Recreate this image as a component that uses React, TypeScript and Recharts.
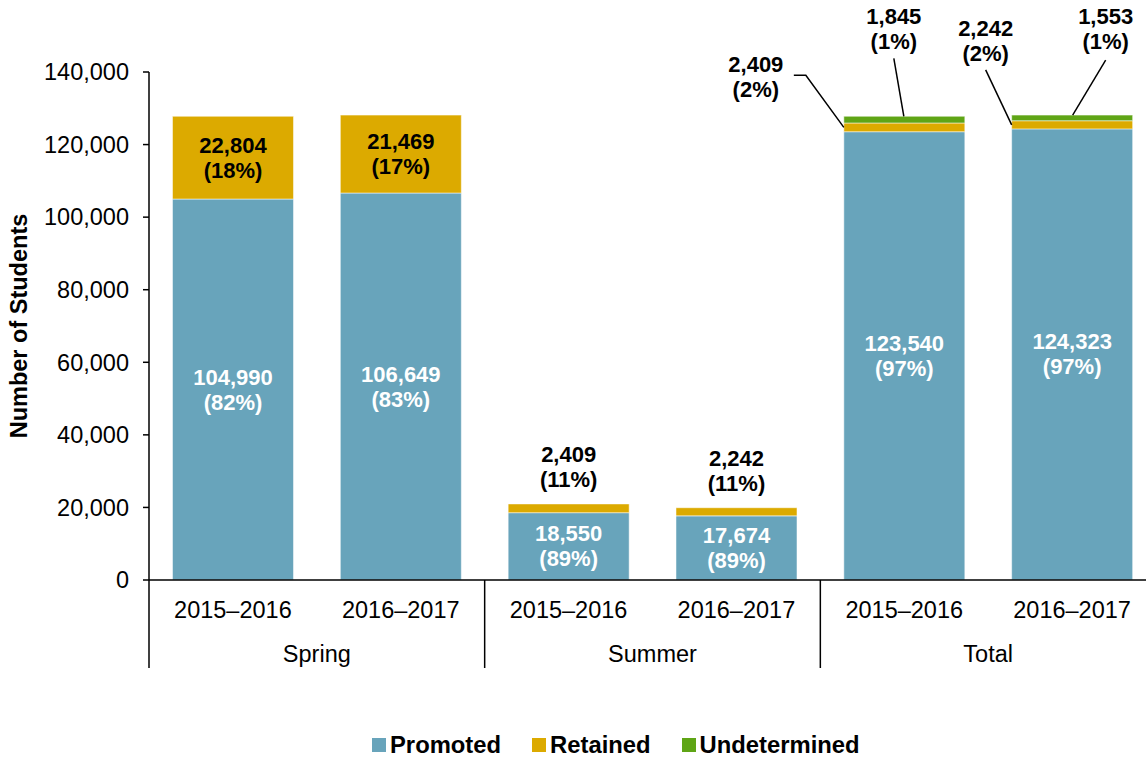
import { BarChart, Bar, XAxis, YAxis, Legend, LabelList, Label } from 'recharts';

const periods = ['2015–2016', '2016–2017', '2015–2016', '2016–2017', '2015–2016', '2016–2017'];
const groups = ['Spring', 'Summer', 'Total'];
const promoted = [104990, 106649, 18550, 17674, 123540, 124323];
const retained = [22804, 21469, 2409, 2242, 2409, 2242];
const undetermined = [0, 0, 0, 0, 1845, 1553];
const promotedPct = [82, 83, 89, 89, 97, 97];
const retainedPct = [18, 17, 11, 11, 2, 2];
const undeterminedPct = [0, 0, 0, 0, 1, 1];
const yTicks = [0, 20000, 40000, 60000, 80000, 100000, 120000, 140000];

const data = periods.map((period, i) => ({
  period,
  promoted: promoted[i],
  retained: retained[i],
  undetermined: undetermined[i],
}));

const BLUE = '#68A4BB';
const GOLD = '#DCAA00';
const GREEN = '#5FA516';
const FONT = '"Liberation Sans", Arial, sans-serif';
const TICK_FS = 23.5;
const LABEL_FS = 22;

const CHART_W = 1160;
const CHART_H = 757;
const MARGIN = { top: 72, right: 4, bottom: 0, left: 0 };
const Y_W = 149;
const BAND = (CHART_W - MARGIN.left - MARGIN.right - Y_W) / periods.length;

const fmt = (v: number) => v.toLocaleString('en-US');

// index of a bar from its x position (zero-height segments may be skipped by LabelList)
const barIndex = (x: number, width: number) =>
  Math.floor((x + width / 2 - MARGIN.left - Y_W) / BAND);

const TwoLines = ({ cx, cy, a, b, fill }: { cx: number; cy: number; a: string; b: string; fill: string }) => (
  <g>
    <text x={cx} y={cy} textAnchor="middle" dominantBaseline="central" fontSize={LABEL_FS} fontWeight={700} fontFamily={FONT} fill={fill}>
      {a}
    </text>
    <text x={cx} y={cy + 25} textAnchor="middle" dominantBaseline="central" fontSize={LABEL_FS} fontWeight={700} fontFamily={FONT} fill={fill}>
      {b}
    </text>
  </g>
);

const PromotedLabel = (props: any) => {
  const { x, y, width, height } = props;
  const index = barIndex(x, width);
  return (
    <TwoLines cx={x + width / 2} cy={y + height / 2 - 12.5} a={fmt(promoted[index])} b={`(${promotedPct[index]}%)`} fill="#fff" />
  );
};

const RetainedLabel = (props: any) => {
  const { x, y, width, height } = props;
  const index = barIndex(x, width);
  const a = fmt(retained[index]);
  const b = `(${retainedPct[index]}%)`;
  const c = y + height / 2;
  if (index < 2) {
    return <TwoLines cx={x + width / 2} cy={c - 12.5} a={a} b={b} fill="#000" />;
  }
  if (index < 4) {
    return <TwoLines cx={x + width / 2} cy={y - 49} a={a} b={b} fill="#000" />;
  }
  if (index === 4) {
    return (
      <g>
        <polyline points={`${x - 50},${c - 52} ${x - 38},${c - 52} ${x},${c}`} fill="none" stroke="#000" strokeWidth={1.5} />
        <TwoLines cx={x - 88} cy={c - 63} a={a} b={b} fill="#000" />
      </g>
    );
  }
  return (
    <g>
      <line x1={x - 26} y1={c - 55} x2={x} y2={c} stroke="#000" strokeWidth={1.5} />
      <TwoLines cx={x - 26} cy={c - 96} a={a} b={b} fill="#000" />
    </g>
  );
};

const UndeterminedLabel = (props: any) => {
  const { x, y, width } = props;
  const index = barIndex(x, width);
  if (!undetermined[index]) return null;
  const a = fmt(undetermined[index]);
  const b = `(${undeterminedPct[index]}%)`;
  if (index === 4) {
    return (
      <g>
        <line x1={x + 50} y1={y - 58} x2={x + 60} y2={y} stroke="#000" strokeWidth={1.5} />
        <TwoLines cx={x + 50} cy={y - 100} a={a} b={b} fill="#000" />
      </g>
    );
  }
  return (
    <g>
      <line x1={x + 94} y1={y - 55} x2={x + 61} y2={y} stroke="#000" strokeWidth={1.5} />
      <TwoLines cx={x + 94} cy={y - 99} a={a} b={b} fill="#000" />
    </g>
  );
};

const PeriodTick = (props: any) => {
  const { x, y, payload, index } = props;
  const left = x - BAND / 2;
  return (
    <g>
      <text x={x} y={y + 30} textAnchor="middle" dominantBaseline="central" fontSize={TICK_FS} fontFamily={FONT} fill="#000">
        {payload.value}
      </text>
      {index % 2 === 0 && (
        <>
          <line x1={left} y1={y} x2={left} y2={y + 88} stroke="#000" strokeWidth={1.5} />
          <text x={x + BAND / 2} y={y + 74} textAnchor="middle" dominantBaseline="central" fontSize={TICK_FS} fontFamily={FONT} fill="#000">
            {groups[index / 2]}
          </text>
        </>
      )}
      {index === periods.length - 1 && (
        <line x1={x + BAND / 2} y1={y} x2={x + BAND / 2} y2={y + 88} stroke="#000" strokeWidth={1.5} />
      )}
    </g>
  );
};

const legendItems = [
  { name: 'Promoted', color: BLUE },
  { name: 'Retained', color: GOLD },
  { name: 'Undetermined', color: GREEN },
];

const LegendContent = () => (
  <div style={{ display: 'flex', paddingLeft: 372, paddingTop: 62, fontFamily: FONT }}>
    {legendItems.map((it) => (
      <div key={it.name} style={{ display: 'flex', alignItems: 'center', marginRight: 31 }}>
        <span style={{ width: 14, height: 14, background: it.color, display: 'inline-block', marginRight: 4 }} />
        <span style={{ fontSize: 23.8, fontWeight: 700, color: '#000', lineHeight: '26px' }}>{it.name}</span>
      </div>
    ))}
  </div>
);

export default function App() {
  return (
    <div style={{ position: 'absolute', left: 0, top: 0, width: CHART_W, height: CHART_H, background: '#fff' }}>
      <BarChart width={CHART_W} height={CHART_H} data={data} margin={MARGIN} barCategoryGap="14%">
        <XAxis
          dataKey="period"
          interval={0}
          height={90}
          tickLine={false}
          tickSize={0}
          tickMargin={0}
          axisLine={{ stroke: '#000', strokeWidth: 1.5 }}
          tick={<PeriodTick />}
        />
        <YAxis
          width={Y_W}
          domain={[0, 140000]}
          ticks={yTicks}
          tickFormatter={fmt}
          tickSize={6}
          tickMargin={14}
          axisLine={{ stroke: '#000', strokeWidth: 1.5 }}
          tickLine={{ stroke: '#000', strokeWidth: 1.5 }}
          tick={{ fontSize: TICK_FS, fontFamily: FONT, fill: '#000' }}
        >
          <Label
            content={(p: any) => {
              const vb = p.viewBox;
              const cy = vb.y + vb.height / 2;
              return (
                <text x={19} y={cy} transform={`rotate(-90, 19, ${cy})`} textAnchor="middle" dominantBaseline="central" fontSize={TICK_FS} fontWeight={700} fontFamily={FONT} fill="#000">
                  Number of Students
                </text>
              );
            }}
          />
        </YAxis>
        <Legend verticalAlign="bottom" height={87} content={<LegendContent />} />
        <Bar dataKey="promoted" name="Promoted" stackId="s" fill={BLUE} stroke="#fff" strokeOpacity={0.5} strokeWidth={1} isAnimationActive={false}>
          <LabelList dataKey="promoted" content={<PromotedLabel />} />
        </Bar>
        <Bar dataKey="retained" name="Retained" stackId="s" fill={GOLD} stroke="#fff" strokeOpacity={0.5} strokeWidth={1} isAnimationActive={false}>
          <LabelList dataKey="retained" content={<RetainedLabel />} />
        </Bar>
        <Bar dataKey="undetermined" name="Undetermined" stackId="s" fill={GREEN} stroke="#fff" strokeOpacity={0.5} strokeWidth={1} isAnimationActive={false}>
          <LabelList dataKey="undetermined" content={<UndeterminedLabel />} />
        </Bar>
      </BarChart>
    </div>
  );
}
